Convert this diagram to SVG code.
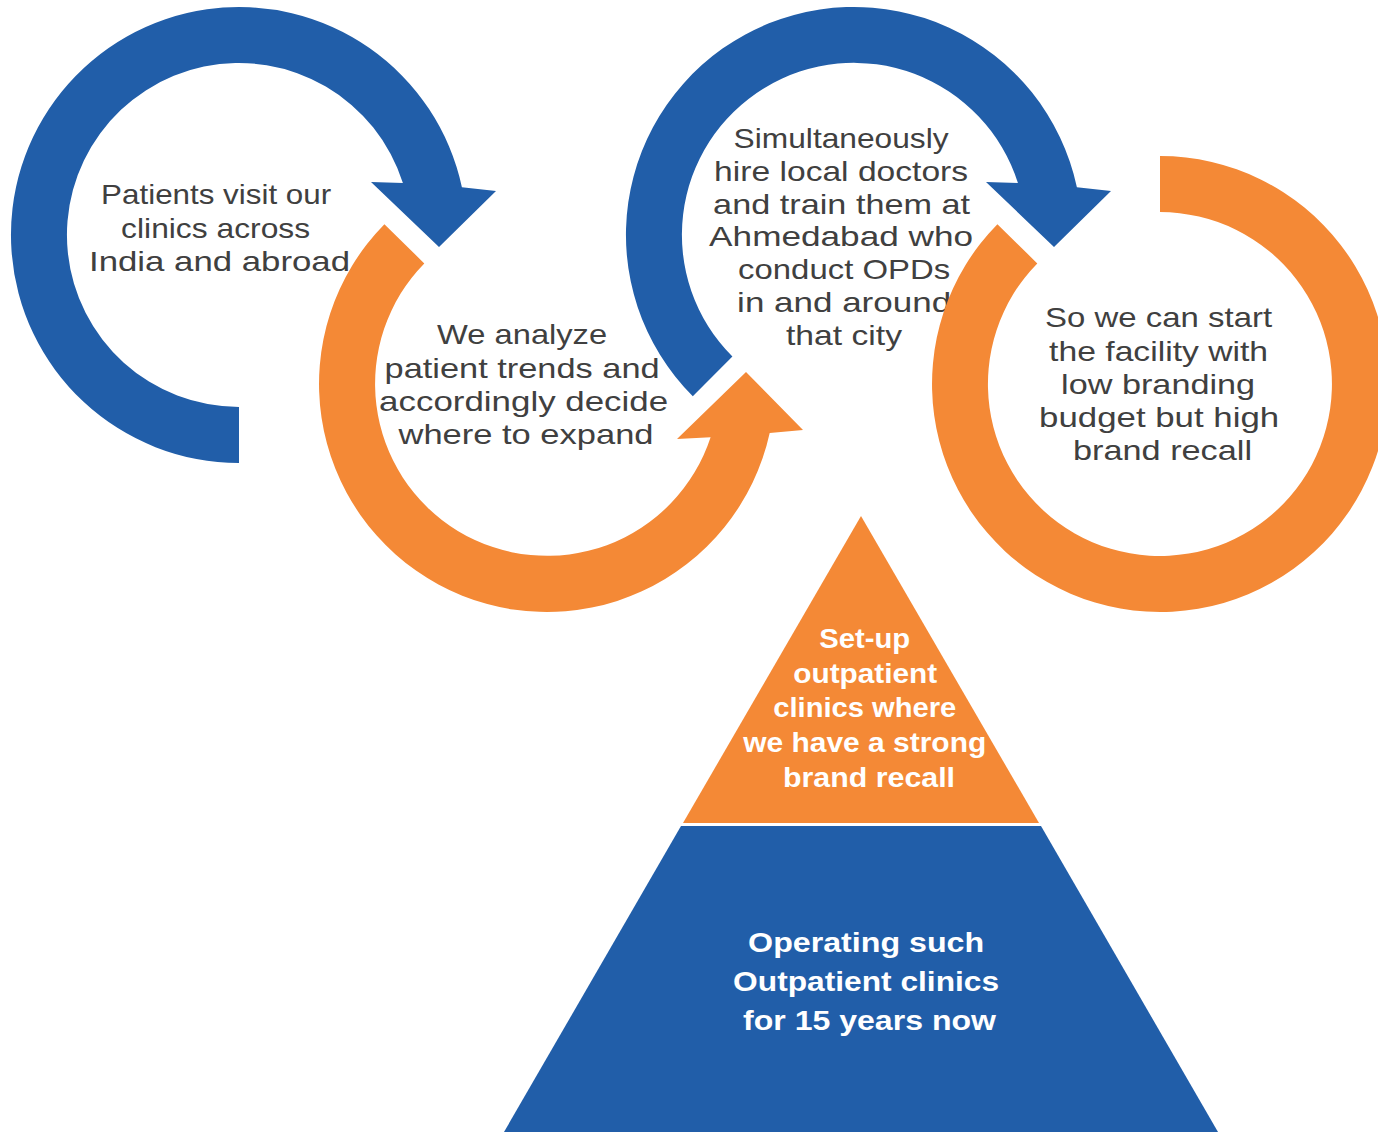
<svg xmlns="http://www.w3.org/2000/svg" width="1378" height="1132" viewBox="0 0 1378 1132">
  <style>
    .blue { fill: #215EA9; }
    .orange { fill: #F48936; }
    .label { font-family: "Liberation Sans", Arial, sans-serif; font-size: 28px; fill: #404040; text-anchor: middle; }
    .strong { font-family: "Liberation Sans", Arial, sans-serif; font-size: 27px; font-weight: bold; fill: #FFFFFF; text-anchor: middle; }
  </style>
  <rect width="1378" height="1132" fill="#FFFFFF"/>

  <!-- Step 1: blue circular arrow -->
  <g id="step-visit">
    <path class="blue" d="M 239,463 A 228 228 0 1 1 461.9,187.2 L 496,191 L 439,247 L 371,182 L 402.9,183 A 172 172 0 1 0 239,407 Z"/>
    <text class="label">
      <tspan x="220" y="204" textLength="230" lengthAdjust="spacingAndGlyphs">Patients visit our</tspan>
      <tspan x="219.5" y="238" textLength="189" lengthAdjust="spacingAndGlyphs">clinics across</tspan>
      <tspan x="219.5" y="271" textLength="261" lengthAdjust="spacingAndGlyphs">India and abroad</tspan>
    </text>
  </g>

  <!-- Step 2: orange circular arrow -->
  <g id="step-analyze">
    <path class="orange" d="M 384.4,224.2 A 228 228 0 1 0 769.7,433 L 803,430 L 746,372 L 677,439 L 710.6,437.2 A 172 172 0 1 1 424.3,263.4 Z"/>
    <text class="label">
      <tspan x="526" y="344" textLength="170" lengthAdjust="spacingAndGlyphs">We analyze</tspan>
      <tspan x="526" y="377.5" textLength="275" lengthAdjust="spacingAndGlyphs">patient trends and</tspan>
      <tspan x="527.5" y="411" textLength="289" lengthAdjust="spacingAndGlyphs">accordingly decide</tspan>
      <tspan x="526" y="444" textLength="255" lengthAdjust="spacingAndGlyphs">where to expand</tspan>
    </text>
  </g>

  <!-- Step 3: blue circular arrow -->
  <g id="step-hire">
    <path class="blue" d="M 692.8,396.2 A 228 228 0 1 1 1076.9,187.2 L 1111,191 L 1054,247 L 986,182 L 1017.9,183 A 172 172 0 1 0 732.4,356.6 Z"/>
    <text class="label">
      <tspan x="845" y="148" textLength="215" lengthAdjust="spacingAndGlyphs">Simultaneously</tspan>
      <tspan x="845" y="181" textLength="254" lengthAdjust="spacingAndGlyphs">hire local doctors</tspan>
      <tspan x="845.5" y="213.5" textLength="257" lengthAdjust="spacingAndGlyphs">and train them at</tspan>
      <tspan x="845" y="246" textLength="264" lengthAdjust="spacingAndGlyphs">Ahmedabad who</tspan>
      <tspan x="848" y="279" textLength="212" lengthAdjust="spacingAndGlyphs">conduct OPDs</tspan>
      <tspan x="848" y="312" textLength="214" lengthAdjust="spacingAndGlyphs">in and around</tspan>
      <tspan x="844" y="345" textLength="116" lengthAdjust="spacingAndGlyphs">that city</tspan>
    </text>
  </g>

  <!-- Step 4: orange open ring -->
  <g id="step-launch">
    <path class="orange" d="M 1160,156 A 228 228 0 1 1 997.4,224.2 L 1037.3,263.4 A 172 172 0 1 0 1160,212 Z"/>
    <text class="label">
      <tspan x="1162.5" y="327" textLength="227" lengthAdjust="spacingAndGlyphs">So we can start</tspan>
      <tspan x="1162.5" y="360.7" textLength="219" lengthAdjust="spacingAndGlyphs">the facility with</tspan>
      <tspan x="1162" y="394" textLength="194" lengthAdjust="spacingAndGlyphs">low branding</tspan>
      <tspan x="1163" y="426.7" textLength="240" lengthAdjust="spacingAndGlyphs">budget but high</tspan>
      <tspan x="1162.5" y="460" textLength="179" lengthAdjust="spacingAndGlyphs">brand recall</tspan>
    </text>
  </g>

  <!-- Pyramid: top tier -->
  <g id="tier-setup">
    <polygon class="orange" points="861,516 1039,823 683,823"/>
    <text class="strong">
      <tspan x="868.5" y="648" textLength="91" lengthAdjust="spacingAndGlyphs">Set-up</tspan>
      <tspan x="869" y="683" textLength="144" lengthAdjust="spacingAndGlyphs">outpatient</tspan>
      <tspan x="868.5" y="717" textLength="183" lengthAdjust="spacingAndGlyphs">clinics where</tspan>
      <tspan x="868.5" y="752" textLength="243" lengthAdjust="spacingAndGlyphs">we have a strong</tspan>
      <tspan x="869" y="787" textLength="172" lengthAdjust="spacingAndGlyphs">brand recall</tspan>
    </text>
  </g>

  <!-- Pyramid: base tier -->
  <g id="tier-operate">
    <polygon class="blue" points="681,826 1041,826 1218,1132 504,1132"/>
    <text class="strong" style="font-size:28px">
      <tspan x="870" y="952" textLength="236" lengthAdjust="spacingAndGlyphs">Operating such</tspan>
      <tspan x="870" y="991" textLength="266" lengthAdjust="spacingAndGlyphs">Outpatient clinics</tspan>
      <tspan x="869.5" y="1030" textLength="253" lengthAdjust="spacingAndGlyphs">for 15 years now</tspan>
    </text>
  </g>

  <!-- The arrows are drawn as part of each ring, so no separate connectors -->
  <g id="connectors"/>
</svg>
